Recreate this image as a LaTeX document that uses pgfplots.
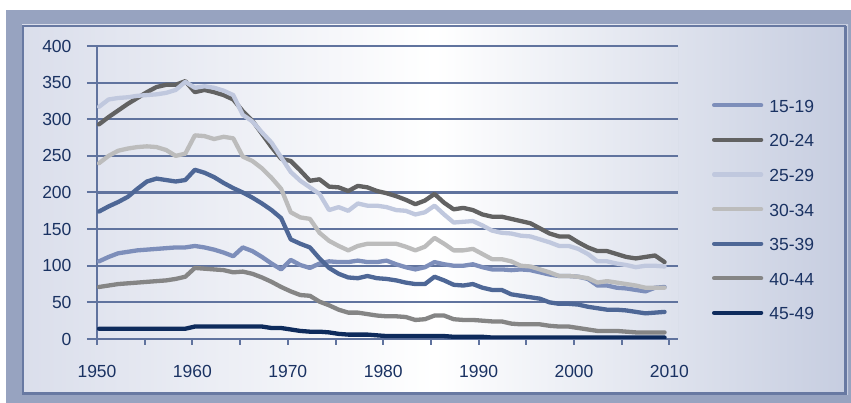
\documentclass[border=0pt]{standalone}
\usepackage{fontspec}
\setmainfont{Liberation Sans}
\usepackage{pgfplots}
\usepackage{pgfplotstable}
\pgfplotsset{compat=1.18}
\definecolor{bandc}{RGB}{151,163,192}
\definecolor{panedge}{RGB}{104,121,162}
\definecolor{panl}{RGB}{218,222,235}
\definecolor{panr}{RGB}{198,205,224}
\definecolor{gridc}{RGB}{96,115,158}
\definecolor{labc}{RGB}{26,50,98}
\definecolor{cA}{RGB}{125,142,186}
\definecolor{cB}{RGB}{98,98,98}
\definecolor{cC}{RGB}{192,200,222}
\definecolor{cD}{RGB}{188,188,188}
\definecolor{cE}{RGB}{78,103,150}
\definecolor{cF}{RGB}{133,133,133}
\definecolor{cG}{RGB}{14,43,92}
\pgfplotstableread{
year a b c d e f g
1950 106 293 317 240 174 71 14
1951 112 303 327 250 181 73 14
1952 117 312 329 257 187 75 14
1953 119 321 330 260 194 76 14
1954 121 329 332 262 205 77 14
1955 122 337 333 263 215 78 14
1956 123 344 334 262 219 79 14
1957 124 347 336 258 217 80 14
1958 125 347 340 250 215 82 14
1959 125 352 351 253 217 85 14
1960 127 337 343 278 231 97 17
1961 125 340 345 277 227 96 17
1962 122 337 343 273 221 95 17
1963 118 333 339 276 213 94 17
1964 113 327 333 274 206 91 17
1965 125 311 306 249 200 92 17
1966 120 298 297 243 193 89 17
1967 112 280 282 233 185 84 17
1968 103 262 268 220 176 78 15
1969 95 246 248 205 165 71 15
1970 108 243 228 173 136 65 13
1971 101 230 216 166 130 60 11
1972 97 216 207 164 125 59 10
1973 103 218 198 145 110 51 10
1974 106 208 176 134 97 46 9
1975 105 207 180 127 89 40 7
1976 105 202 175 121 84 36 6
1977 107 209 185 127 83 36 6
1978 105 207 182 130 86 34 6
1979 105 202 182 130 83 32 5
1980 107 199 180 130 82 31 4
1981 102 195 176 130 80 31 4
1982 98 190 175 126 77 30 4
1983 95 184 170 121 75 26 4
1984 98 189 173 126 75 27 4
1985 105 198 182 138 85 32 4
1986 102 186 170 130 80 32 4
1987 100 177 159 121 74 27 3
1988 100 179 160 121 73 26 3
1989 102 176 161 123 75 26 3
1990 98 170 155 116 70 25 3
1991 95 167 148 109 67 24 2
1992 95 167 145 109 67 24 2
1993 94 164 144 106 61 21 2
1994 95 161 141 100 59 20 2
1995 94 158 140 99 57 20 2
1996 91 151 136 95 55 20 2
1997 88 144 132 91 50 18 2
1998 86 140 127 86 48 17 2
1999 86 140 127 86 48 17 2
2000 85 132 123 85 47 15 2
2001 82 125 116 83 44 13 2
2002 73 120 106 77 42 11 2
2003 73 120 106 79 40 11 2
2004 70 116 103 77 40 11 2
2005 69 112 101 75 39 10 2
2006 67 110 98 73 37 9 2
2007 65 112 100 70 35 9 2
2008 70 114 100 70 36 9 2
2009 71 105 99 70 37 9 2
}\data
\begin{document}
\begin{tikzpicture}[x=1pt,y=1pt]
\useasboundingbox (0,0) rectangle (851,403);
\fill[bandc] (6,0) rectangle (851,393);
\shade[left color=panl, right color=panr, middle color=white] (22,8) rectangle (848,378);
\draw[panedge, line width=3pt] (845.5,8) -- (845.5,376.5);
\draw[panedge, line width=3pt] (22,9.5) -- (847,9.5);
\draw[panedge, line width=2pt] (23,9) -- (23,377) -- (846,377);
\begin{axis}[
  at={(97pt,64pt)}, anchor=south west,
  scale only axis, width=581pt, height=293pt,
  xmin=1949.79, xmax=2010.4, ymin=0, ymax=400,
  axis x line*=bottom, axis y line*=left,
  axis line style={gridc, line width=2pt},
  xtick={1949.79,1959.74,1969.69,1979.65,1989.60,1999.55,2009.50},
  xticklabels={1950,1960,1970,1980,1990,2000,2010},
  minor xtick={1954.77,1964.72,1974.67,1984.62,1994.57,2004.52},
  ytick={0,50,...,400},
  tick align=outside,
  major tick length=10pt, minor tick length=6pt,
  x tick style={gridc, line width=2pt, /pgfplots/major tick length=6pt},
  minor x tick style={gridc, line width=2pt},
  y tick style={gridc, line width=2pt},
  ymajorgrids, major grid style={gridc, line width=2.2pt},
  /pgf/number format/assume math mode=true,
  ticklabel style={font=\fontsize{17.5}{20}\selectfont, text=labc},
  yticklabel style={xshift=-12pt, /pgf/number format/.cd, 1000 sep={}},
  xticklabel style={yshift=-13pt, /pgf/number format/.cd, 1000 sep={}},
  legend cell align=left,
  legend image code/.code={\draw[#1, line width=4.3pt, line cap=round] (2pt,1pt) -- (49pt,1pt);},
  legend style={at={(1.0585,0.44)}, anchor=west, draw=none, fill=none,
    inner sep=0pt, outer sep=0pt, row sep=22.6pt,
    font=\fontsize{17.5}{20}\selectfont, text=labc,
    nodes={inner sep=0pt, text height=12pt, text depth=0pt},
    /tikz/every odd column/.append style={column sep=6pt}},
]
\draw[gridc!35, line width=1pt] (rel axis cs:1,0) -- (rel axis cs:1,1);
\addplot[cA, line width=4.3pt, line join=round, line cap=round, mark=none] table[x=year, y=a] {\data};
\addplot[cB, line width=4.3pt, line join=round, line cap=round, mark=none] table[x=year, y=b] {\data};
\addplot[cC, line width=4.3pt, line join=round, line cap=round, mark=none] table[x=year, y=c] {\data};
\addplot[cD, line width=4.3pt, line join=round, line cap=round, mark=none] table[x=year, y=d] {\data};
\addplot[cE, line width=4.3pt, line join=round, line cap=round, mark=none] table[x=year, y=e] {\data};
\addplot[cF, line width=4.3pt, line join=round, line cap=round, mark=none] table[x=year, y=f] {\data};
\addplot[cG, line width=4.3pt, line join=round, line cap=round, mark=none] table[x=year, y=g] {\data};
\legend{15-19,20-24,25-29,30-34,35-39,40-44,45-49}
\end{axis}
\end{tikzpicture}
\end{document}
